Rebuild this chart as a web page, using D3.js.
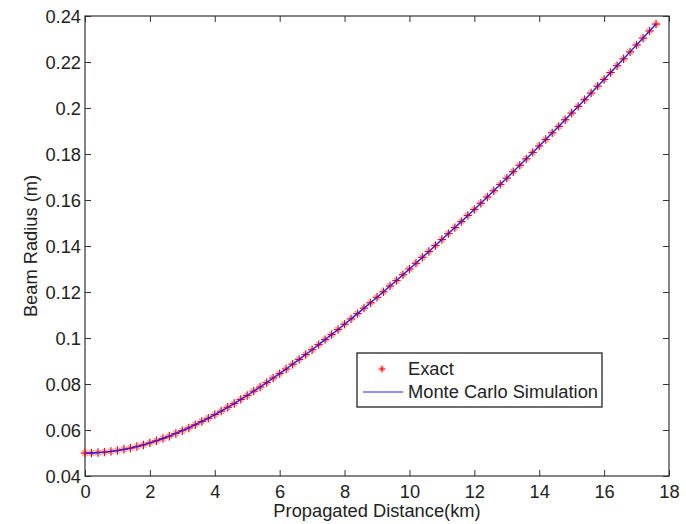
<!DOCTYPE html>
<html>
<head>
<meta charset="utf-8">
<script src="https://cdnjs.cloudflare.com/ajax/libs/d3/7.8.5/d3.min.js"></script>
<style>
  body { margin: 0; background: #fff; }
  text { font-family: "Liberation Sans", Arial, sans-serif; fill: #222; }
</style>
</head>
<body>
<svg id="chart" width="686" height="524"></svg>
<script>
// distance along the path (km)
var distance = [
  0.0, 0.2, 0.4, 0.6, 0.8, 1.0, 1.2, 1.4, 1.6, 1.8,
  2.0, 2.2, 2.4, 2.6, 2.8, 3.0, 3.2, 3.4, 3.6, 3.8,
  4.0, 4.2, 4.4, 4.6, 4.8, 5.0, 5.2, 5.4, 5.6, 5.8,
  6.0, 6.2, 6.4, 6.6, 6.8, 7.0, 7.2, 7.4, 7.6, 7.8,
  8.0, 8.2, 8.4, 8.6, 8.8, 9.0, 9.2, 9.4, 9.6, 9.8,
  10.0, 10.2, 10.4, 10.6, 10.8, 11.0, 11.2, 11.4, 11.6, 11.8,
  12.0, 12.2, 12.4, 12.6, 12.8, 13.0, 13.2, 13.4, 13.6, 13.8,
  14.0, 14.2, 14.4, 14.6, 14.8, 15.0, 15.2, 15.4, 15.6, 15.8,
  16.0, 16.2, 16.4, 16.6, 16.8, 17.0, 17.2, 17.4, 17.6
];

// exact beam radius (m)
var exactRadius = [
  0.0500, 0.0500, 0.0502, 0.0504, 0.0507, 0.0511, 0.0516, 0.0521, 0.0528, 0.0535,
  0.0544, 0.0553, 0.0563, 0.0573, 0.0585, 0.0597, 0.0609, 0.0623, 0.0637, 0.0651,
  0.0667, 0.0682, 0.0699, 0.0715, 0.0733, 0.0750, 0.0769, 0.0787, 0.0806, 0.0826,
  0.0845, 0.0865, 0.0886, 0.0907, 0.0928, 0.0949, 0.0971, 0.0993, 0.1015, 0.1037,
  0.1060, 0.1083, 0.1106, 0.1130, 0.1153, 0.1177, 0.1201, 0.1226, 0.1250, 0.1275,
  0.1300, 0.1325, 0.1351, 0.1376, 0.1402, 0.1428, 0.1454, 0.1480, 0.1506, 0.1533,
  0.1559, 0.1586, 0.1613, 0.1640, 0.1668, 0.1695, 0.1723, 0.1751, 0.1779, 0.1807,
  0.1835, 0.1863, 0.1892, 0.1920, 0.1949, 0.1978, 0.2007, 0.2036, 0.2065, 0.2095,
  0.2124, 0.2154, 0.2184, 0.2214, 0.2244, 0.2274, 0.2304, 0.2335, 0.2365
];

// monte carlo result sits on top of the exact curve
var monteCarloRadius = exactRadius.slice();

var xTicks = [0, 2, 4, 6, 8, 10, 12, 14, 16, 18];
var yTicks = [0.04, 0.06, 0.08, 0.10, 0.12, 0.14, 0.16, 0.18, 0.20, 0.22, 0.24];
var yTickLabels = ["0.04", "0.06", "0.08", "0.1", "0.12", "0.14", "0.16", "0.18", "0.2", "0.22", "0.24"];

var svg = d3.select("#chart");
var margin = {top: 16, right: 17, bottom: 48, left: 85};
var width = 686 - margin.left - margin.right;
var height = 524 - margin.top - margin.bottom;

var g = svg.append("g")
    .attr("transform", "translate(" + margin.left + "," + margin.top + ")");

var x = d3.scaleLinear().domain([0, 18]).range([0, width]);
var y = d3.scaleLinear().domain([0.04, 0.24]).range([height, 0]);

function styleAxis(sel) {
  sel.select(".domain").remove();
  sel.selectAll(".tick line").attr("stroke", "#333");
  sel.selectAll("text")
      .style("font-size", "18.3px")
      .attr("fill", "#222");
}

// bottom + left with labels, ticks pointing inward
g.append("g")
    .attr("transform", "translate(0," + height + ")")
    .call(d3.axisBottom(x).tickValues(xTicks).tickSize(-6).tickPadding(9)
      .tickFormat(d3.format("d")))
    .call(styleAxis);

g.append("g")
    .call(d3.axisLeft(y).tickValues(yTicks).tickSize(-6).tickPadding(4)
      .tickFormat(function(d, i) { return yTickLabels[i]; }))
    .call(styleAxis)
    .selectAll("text").attr("dy", "0.34em");

// top + right, ticks only
g.append("g")
    .call(d3.axisTop(x).tickValues(xTicks).tickSize(-6).tickFormat(""))
    .call(styleAxis);

g.append("g")
    .attr("transform", "translate(" + width + ",0)")
    .call(d3.axisRight(y).tickValues(yTicks).tickSize(-6).tickFormat(""))
    .call(styleAxis);

g.append("rect")
    .attr("width", width)
    .attr("height", height)
    .attr("fill", "none")
    .attr("stroke", "#333")
    .attr("stroke-width", 1.2);

// asterisk marker: strong plus, faint diagonals
function asterisk(sel, r) {
  var d = r * 0.65;
  sel.append("line").attr("x1", -d).attr("x2", d).attr("y1", -d).attr("y2", d)
      .attr("stroke", "#ff8a8a");
  sel.append("line").attr("x1", -d).attr("x2", d).attr("y1", d).attr("y2", -d)
      .attr("stroke", "#ff8a8a");
  sel.append("line").attr("x1", -r).attr("x2", r).attr("y1", 0).attr("y2", 0);
  sel.append("line").attr("x1", 0).attr("x2", 0).attr("y1", -r).attr("y2", r);
}

var pts = d3.range(distance.length);

g.append("g")
    .attr("stroke", "#ff0000")
    .attr("stroke-width", 1.2)
  .selectAll("g")
  .data(pts)
  .join("g")
    .attr("transform", function(i) { return "translate(" + x(distance[i]) + "," + y(exactRadius[i]) + ")"; })
    .call(asterisk, 4.2);

var line = d3.line()
    .x(function(i) { return x(distance[i]); })
    .y(function(i) { return y(monteCarloRadius[i]); });

g.append("path")
    .datum(pts)
    .attr("fill", "none")
    .attr("stroke", "#2020ff")
    .attr("stroke-width", 1.4)
    .attr("d", line);

// axis titles
g.append("text")
    .attr("x", width / 2)
    .attr("y", height + 41)
    .attr("text-anchor", "middle")
    .style("font-size", "18.3px")
    .text("Propagated Distance(km)");

g.append("text")
    .attr("transform", "translate(-48," + (height / 2) + ") rotate(-90)")
    .attr("text-anchor", "middle")
    .style("font-size", "18.3px")
    .text("Beam Radius (m)");

// legend
var legend = svg.append("g").attr("transform", "translate(357,353)");
legend.append("rect")
    .attr("width", 245)
    .attr("height", 54)
    .attr("fill", "#fff")
    .attr("stroke", "#111")
    .attr("stroke-width", 1.2);

legend.append("g")
    .attr("transform", "translate(25,16)")
    .attr("stroke", "#ff0000")
    .attr("stroke-width", 1.1)
    .call(asterisk, 3.4);

legend.append("text")
    .attr("x", 51).attr("y", 22)
    .style("font-size", "18.3px")
    .text("Exact");

legend.append("line")
    .attr("x1", 6).attr("x2", 46)
    .attr("y1", 39).attr("y2", 39)
    .attr("stroke", "#2020ff")
    .attr("stroke-width", 1.2);

legend.append("text")
    .attr("x", 51).attr("y", 45)
    .style("font-size", "18.3px")
    .text("Monte Carlo Simulation");
</script>
</body>
</html>
